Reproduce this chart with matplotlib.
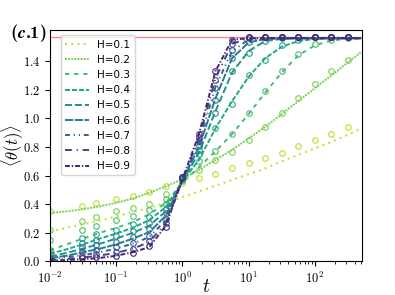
import numpy as np
import matplotlib
matplotlib.use("Agg")
import matplotlib.pyplot as plt

plt.rcParams['mathtext.fontset'] = 'cm'
plt.rcParams['font.family'] = 'cmr10'
plt.rcParams['axes.formatter.use_mathtext'] = True

H_values = [0.1, 0.2, 0.3, 0.4, 0.5, 0.6, 0.7, 0.8, 0.9]

# time grid of the smooth curves
t_line = [0.01, 0.0178, 0.0316, 0.0562, 0.1, 0.178, 0.316, 0.562, 1.0, 1.78,
          3.16, 5.62, 10.0, 17.8, 31.6, 56.2, 100.0, 178.0, 316.0, 500.0]
# time grid of the simulation points
t_data = [0.01, 0.03, 0.05, 0.1, 0.178, 0.316, 0.562, 1.0, 1.78, 3.16, 5.62,
          10.0, 17.8, 31.6, 56.2, 100.0, 178.0, 316.0]

theta_line = {
    0.1: [0.21, 0.235, 0.26, 0.285, 0.315, 0.345, 0.375, 0.41, 0.45, 0.49, 0.53, 0.57, 0.61, 0.65, 0.70, 0.745, 0.79, 0.835, 0.885, 0.93],
    0.2: [0.34, 0.35, 0.365, 0.385, 0.41, 0.44, 0.48, 0.525, 0.575, 0.64, 0.71, 0.78, 0.86, 0.94, 1.03, 1.12, 1.21, 1.30, 1.39, 1.465],
    0.3: [0.077, 0.12, 0.16, 0.20, 0.235, 0.275, 0.33, 0.41, 0.55, 0.66, 0.77, 0.89, 1.03, 1.18, 1.32, 1.44, 1.51, 1.545, 1.555, 1.56],
    0.4: [0.054, 0.085, 0.12, 0.16, 0.195, 0.235, 0.29, 0.38, 0.56, 0.71, 0.93, 1.12, 1.29, 1.42, 1.50, 1.54, 1.555, 1.56, 1.56, 1.56],
    0.5: [0.035, 0.06, 0.09, 0.124, 0.16, 0.20, 0.25, 0.35, 0.56, 0.76, 1.05, 1.32, 1.47, 1.54, 1.555, 1.56, 1.56, 1.56, 1.56, 1.56],
    0.6: [0.025, 0.04, 0.065, 0.089, 0.12, 0.16, 0.205, 0.32, 0.565, 0.80, 1.14, 1.42, 1.53, 1.555, 1.56, 1.56, 1.56, 1.56, 1.56, 1.56],
    0.7: [0.015, 0.03, 0.045, 0.065, 0.09, 0.125, 0.17, 0.29, 0.57, 0.83, 1.22, 1.47, 1.55, 1.56, 1.56, 1.56, 1.56, 1.56, 1.56, 1.56],
    0.8: [0.01, 0.018, 0.028, 0.042, 0.06, 0.09, 0.135, 0.27, 0.57, 0.86, 1.28, 1.52, 1.56, 1.56, 1.56, 1.56, 1.56, 1.56, 1.56, 1.56],
    0.9: [0.005, 0.01, 0.016, 0.025, 0.04, 0.065, 0.10, 0.25, 0.575, 0.89, 1.33, 1.55, 1.56, 1.56, 1.56, 1.56, 1.56, 1.56, 1.56, 1.56],
}

theta_data = {
    0.1: [0.35, 0.39, 0.41, 0.44, 0.46, 0.485, 0.525, 0.55, 0.58, 0.61, 0.65, 0.69, 0.72, 0.76, 0.81, 0.85, 0.89, 0.94],
    0.2: [0.22, 0.28, 0.31, 0.35, 0.375, 0.40, 0.47, 0.56, 0.64, 0.71, 0.765, 0.85, 0.94, 1.04, 1.14, 1.24, 1.33, 1.41],
    0.3: [0.147, 0.22, 0.245, 0.29, 0.32, 0.36, 0.44, 0.57, 0.70, 0.77, 0.89, 1.04, 1.19, 1.33, 1.45, 1.52, 1.55, 1.56],
    0.4: [0.077, 0.165, 0.19, 0.22, 0.26, 0.31, 0.40, 0.575, 0.75, 0.93, 1.10, 1.30, 1.41, 1.51, 1.55, 1.565, 1.57, 1.57],
    0.5: [0.05, 0.127, 0.15, 0.175, 0.21, 0.27, 0.37, 0.58, 0.78, 1.04, 1.33, 1.46, 1.54, 1.56, 1.57, 1.57, 1.57, 1.57],
    0.6: [0.028, 0.10, 0.115, 0.135, 0.17, 0.23, 0.34, 0.58, 0.81, 1.13, 1.42, 1.53, 1.565, 1.57, 1.57, 1.57, 1.57, 1.57],
    0.7: [0.014, 0.065, 0.08, 0.10, 0.13, 0.18, 0.30, 0.585, 0.84, 1.21, 1.48, 1.56, 1.57, 1.57, 1.57, 1.57, 1.57, 1.57],
    0.8: [0.01, 0.04, 0.05, 0.065, 0.09, 0.14, 0.27, 0.59, 0.87, 1.27, 1.52, 1.565, 1.57, 1.57, 1.57, 1.57, 1.57, 1.57],
    0.9: [0.005, 0.023, 0.03, 0.035, 0.06, 0.105, 0.24, 0.59, 0.89, 1.33, 1.55, 1.57, 1.57, 1.57, 1.57, 1.57, 1.57, 1.57],
}

styles = [(0, (1, 2.2)), (0, (1, 0.6)), (0, (2.2, 2.5)), (0, (2.6, 1)),
          (0, (3.6, 1.5)), (0, (4.2, 0.8)), (0, (2.5, 2, 0.6, 2, 0.6, 2)),
          (0, (3.5, 2.5, 0.6, 2.5)), (0, (2.5, 1, 0.7, 1))]

cmap = plt.get_cmap('viridis')

fig = plt.figure(figsize=(3.95, 2.95), dpi=100)
ax = fig.add_axes([0.1266, 0.1136, 0.789, 0.786])

ax.axhline(np.pi / 2, color='#ff8585', lw=1.0, zorder=1)

for i, H in enumerate(H_values):
    c = cmap(1 - H)
    ax.plot(t_line, theta_line[H], ls=styles[i], color=c, lw=1.4, label='H=%.1f' % H)
    ax.plot(t_data, theta_data[H], 'o', mfc='none', mec=c, ms=4, mew=0.8)

ax.set_xscale('log')
ax.set_xlim(0.01, 510)
ax.set_ylim(0, 1.62)
ax.set_yticks([0.0, 0.2, 0.4, 0.6, 0.8, 1.0, 1.2, 1.4])
ax.tick_params(labelsize=9)
ax.set_xlabel(r'$t$', fontsize=14)
ax.set_ylabel(r'$\langle\theta(t)\rangle$', fontsize=12)
ax.xaxis.set_label_coords(0.5, -0.07)
ax.yaxis.set_label_coords(-0.08, 0.5)

ax.text(-0.01, 0.985, r'($\boldsymbol{c}$.1)', transform=ax.transAxes,
        ha='right', va='center', fontsize=13, family='cmb10')

leg = ax.legend(loc='upper left', bbox_to_anchor=(0.035, 0.975), borderaxespad=0,
                labelspacing=0.5, handlelength=2.3,
                prop={'family': 'DejaVu Sans', 'size': 7.5})

fig.savefig('out.png', dpi=100)
